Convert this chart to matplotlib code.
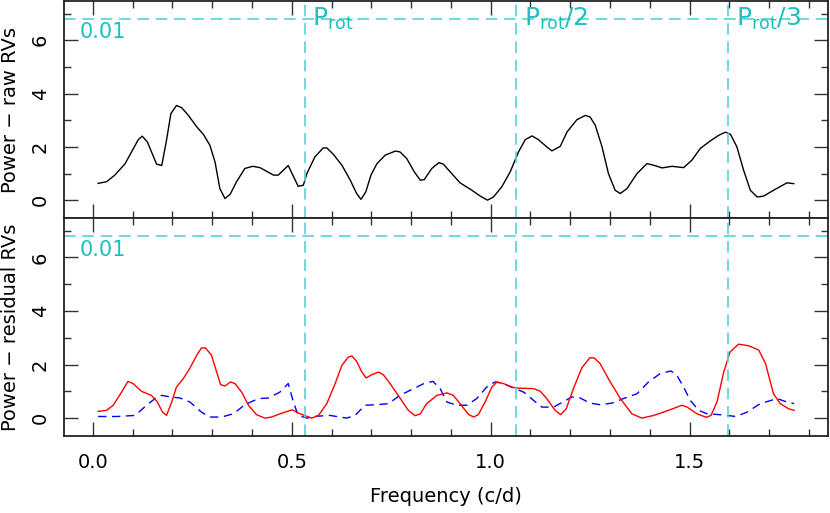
import matplotlib
matplotlib.use("Agg")
import matplotlib.pyplot as plt
from matplotlib.ticker import MultipleLocator

# raw RVs periodogram (top panel)
freq_raw = [0.013, 0.034, 0.055, 0.081, 0.097, 0.114, 0.124, 0.137, 0.160, 0.173,
            0.185, 0.196, 0.210, 0.223, 0.240, 0.261, 0.278, 0.294, 0.307, 0.319,
            0.332, 0.345, 0.361, 0.382, 0.402, 0.420, 0.454, 0.466, 0.491, 0.516,
            0.529, 0.538, 0.558, 0.579, 0.588, 0.605, 0.626, 0.647, 0.663, 0.674,
            0.686, 0.699, 0.714, 0.735, 0.760, 0.772, 0.789, 0.808, 0.823, 0.833,
            0.852, 0.870, 0.881, 0.902, 0.923, 0.953, 0.974, 0.992, 1.007, 1.028,
            1.049, 1.070, 1.087, 1.104, 1.120, 1.141, 1.154, 1.175, 1.192, 1.217,
            1.238, 1.250, 1.263, 1.280, 1.296, 1.313, 1.326, 1.343, 1.368, 1.393,
            1.410, 1.431, 1.456, 1.485, 1.506, 1.527, 1.552, 1.573, 1.590, 1.603,
            1.619, 1.636, 1.653, 1.670, 1.686, 1.711, 1.745, 1.762]
power_raw = [0.63, 0.69, 0.94, 1.37, 1.81, 2.27, 2.40, 2.18, 1.35, 1.30,
             2.25, 3.25, 3.55, 3.47, 3.18, 2.75, 2.46, 2.06, 1.43, 0.44,
             0.06, 0.22, 0.69, 1.19, 1.27, 1.22, 0.94, 0.94, 1.30, 0.52,
             0.56, 1.00, 1.62, 1.96, 1.96, 1.71, 1.31, 0.75, 0.25, 0.03,
             0.31, 0.94, 1.37, 1.69, 1.84, 1.81, 1.56, 1.06, 0.75, 0.77,
             1.19, 1.41, 1.35, 1.00, 0.65, 0.37, 0.15, 0.00, 0.12, 0.50,
             1.06, 1.81, 2.27, 2.41, 2.27, 2.00, 1.85, 2.02, 2.56, 3.02,
             3.18, 3.12, 2.81, 2.00, 1.00, 0.37, 0.25, 0.44, 1.00, 1.37,
             1.31, 1.21, 1.27, 1.22, 1.50, 1.94, 2.22, 2.43, 2.55, 2.47,
             2.00, 1.12, 0.37, 0.12, 0.15, 0.37, 0.65, 0.62]

# residual RVs periodogram, red solid
freq_res1 = [0.013, 0.034, 0.051, 0.072, 0.088, 0.101, 0.122, 0.147, 0.162, 0.175,
             0.185, 0.198, 0.210, 0.227, 0.244, 0.261, 0.273, 0.283, 0.298, 0.311,
             0.321, 0.332, 0.346, 0.357, 0.374, 0.391, 0.411, 0.432, 0.449, 0.470,
             0.501, 0.521, 0.550, 0.567, 0.588, 0.609, 0.626, 0.642, 0.651, 0.663,
             0.676, 0.687, 0.701, 0.718, 0.730, 0.747, 0.772, 0.793, 0.810, 0.823,
             0.839, 0.865, 0.890, 0.906, 0.923, 0.944, 0.957, 0.969, 0.986, 1.003,
             1.016, 1.032, 1.053, 1.066, 1.108, 1.125, 1.141, 1.162, 1.176, 1.190,
             1.208, 1.229, 1.249, 1.260, 1.275, 1.296, 1.326, 1.355, 1.380, 1.410,
             1.447, 1.481, 1.494, 1.519, 1.542, 1.554, 1.569, 1.586, 1.602, 1.623,
             1.649, 1.674, 1.691, 1.711, 1.728, 1.749, 1.763]
power_res1 = [0.25, 0.29, 0.48, 0.97, 1.37, 1.29, 1.00, 0.85, 0.60, 0.22,
              0.10, 0.60, 1.16, 1.47, 1.87, 2.35, 2.62, 2.62, 2.35, 1.72,
              1.25, 1.20, 1.35, 1.29, 0.97, 0.48, 0.13, 0.00, 0.04, 0.16,
              0.31, 0.16, 0.00, 0.10, 0.54, 1.29, 1.97, 2.28, 2.32, 2.12,
              1.72, 1.50, 1.62, 1.72, 1.62, 1.29, 0.75, 0.29, 0.09, 0.16,
              0.54, 0.85, 0.94, 0.85, 0.54, 0.14, 0.04, 0.13, 0.60, 1.16,
              1.35, 1.29, 1.16, 1.12, 1.10, 1.00, 0.73, 0.29, 0.13, 0.35,
              1.10, 1.87, 2.25, 2.25, 2.04, 1.47, 0.73, 0.16, 0.00, 0.10,
              0.29, 0.48, 0.41, 0.16, 0.03, 0.10, 0.60, 1.72, 2.47, 2.76,
              2.70, 2.54, 2.04, 0.91, 0.54, 0.35, 0.29]

# residual RVs periodogram, blue dashed
freq_res2 = [0.013, 0.060, 0.106, 0.135, 0.156, 0.173, 0.194, 0.219, 0.244, 0.273,
             0.294, 0.323, 0.353, 0.382, 0.416, 0.441, 0.470, 0.491, 0.504, 0.516,
             0.538, 0.563, 0.596, 0.638, 0.659, 0.684, 0.714, 0.743, 0.772, 0.806,
             0.835, 0.855, 0.873, 0.890, 0.915, 0.940, 0.965, 0.990, 1.011, 1.032,
             1.058, 1.083, 1.108, 1.129, 1.158, 1.179, 1.204, 1.225, 1.250, 1.275,
             1.305, 1.334, 1.368, 1.397, 1.426, 1.453, 1.468, 1.485, 1.502, 1.523,
             1.544, 1.575, 1.617, 1.644, 1.678, 1.720, 1.745, 1.763]
power_res2 = [0.06, 0.06, 0.10, 0.48, 0.73, 0.85, 0.79, 0.75, 0.60, 0.22,
              0.04, 0.04, 0.16, 0.50, 0.73, 0.75, 0.97, 1.29, 0.60, 0.10,
              0.00, 0.07, 0.10, 0.00, 0.10, 0.48, 0.50, 0.54, 0.85, 1.10,
              1.31, 1.37, 1.10, 0.60, 0.48, 0.48, 0.73, 1.16, 1.35, 1.29,
              1.12, 0.97, 0.66, 0.41, 0.41, 0.58, 0.79, 0.75, 0.56, 0.50,
              0.56, 0.73, 0.91, 1.35, 1.66, 1.76, 1.60, 1.16, 0.66, 0.29,
              0.16, 0.13, 0.06, 0.22, 0.54, 0.73, 0.60, 0.54]

fap_level = 6.8
fap_label = "0.01"
rot_freqs = [0.532, 1.064, 1.596]
rot_labels = [r"$\mathregular{P_{rot}}$", r"$\mathregular{P_{rot}/2}$", r"$\mathregular{P_{rot}/3}$"]

CYAN_LINE = "#55d4d4"
CYAN_TEXT = "#1cc0c0"
FS = 14

fig = plt.figure(figsize=(8.3, 5.13), dpi=100)
ax1 = fig.add_axes([0.077, 0.575, 0.921, 0.423])
ax2 = fig.add_axes([0.077, 0.150, 0.921, 0.425], sharex=ax1)

ax1.plot(freq_raw, power_raw, color="black", lw=1.0)
ax2.plot(freq_res2, power_res2, color="blue", lw=1.0, ls=(0, (6, 4)))
ax2.plot(freq_res1, power_res1, color="red", lw=1.0)

for ax in (ax1, ax2):
    ax.axhline(fap_level, color=CYAN_LINE, lw=1.2, ls=(0, (7, 4)))
    for f in rot_freqs:
        ax.axvline(f, color=CYAN_LINE, lw=1.2, ls=(0, (7, 4)))
    ax.text(-0.034, 6.07, fap_label, color=CYAN_TEXT, fontsize=15, va="baseline")
    ax.set_xlim(-0.073, 1.849)
    ax.set_ylim(-0.67, 7.47)
    ax.xaxis.set_major_locator(MultipleLocator(0.5))
    ax.xaxis.set_minor_locator(MultipleLocator(0.1))
    ax.yaxis.set_major_locator(MultipleLocator(2))
    ax.yaxis.set_minor_locator(MultipleLocator(1))
    ax.tick_params(which="both", direction="in", top=True, right=True,
                   labelsize=FS, width=1.0, color="#333333")
    ax.tick_params(which="major", length=10)
    ax.tick_params(which="minor", length=5)
    ax.tick_params(axis="y", pad=10)
    ax.tick_params(axis="x", pad=12)
    for lab in ax.get_yticklabels():
        lab.set_rotation(90)
        lab.set_va("center")
    for s in ax.spines.values():
        s.set_linewidth(1.3)
        s.set_color("#222222")

for f, lab in zip(rot_freqs, rot_labels):
    ax1.text(f + 0.02, 6.55, lab, color=CYAN_TEXT, fontsize=18, va="baseline")

ax1.tick_params(axis="x", labelbottom=False)
ax1.set_ylabel("Power − raw RVs", fontsize=FS, labelpad=8)
ax2.set_ylabel("Power − residual RVs", fontsize=FS, labelpad=8)
ax2.set_xlabel("Frequency (c/d)", fontsize=FS, labelpad=11)
fig.align_ylabels([ax1, ax2])

fig.savefig("out.png", dpi=100)
